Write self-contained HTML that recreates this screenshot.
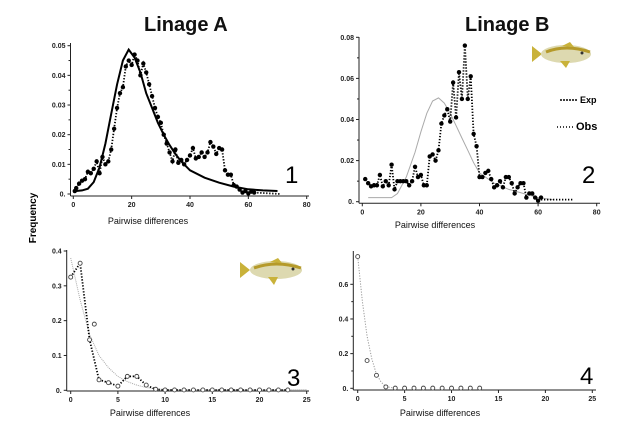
<!DOCTYPE html>
<html><head><meta charset="utf-8"><style>
body{margin:0;background:#fff;}
svg{display:block;font-family:"Liberation Sans",Arial,sans-serif;}
.tk{font-size:7px;font-weight:bold;fill:#222;}
.xl{font-size:9px;fill:#111;}
.ttl{font-size:20px;font-weight:bold;fill:#111;}
.num{font-size:24px;fill:#000;}
</style></head><body>
<svg id="fig" width="639" height="426" viewBox="0 0 639 426">
<text class="ttl" x="144" y="31">Linage A</text>
<text class="ttl" x="465" y="31">Linage B</text>
<text x="0" y="0" transform="translate(36,218) rotate(-90)" text-anchor="middle" style="font-size:10px;font-weight:bold">Frequency</text>
<g>
<line x1="560" y1="100" x2="578" y2="100" stroke="#000" stroke-width="1.5" stroke-dasharray="2 1"/>
<text x="580" y="103" style="font-size:9px;font-weight:bold">Exp</text>
<line x1="557" y1="127" x2="575" y2="127" stroke="#000" stroke-width="1.5" stroke-dasharray="1 2"/>
<text x="576" y="130" style="font-size:11px;font-weight:bold">Obs</text>
</g>
<g transform="translate(532,42)">
<path d="M0,4 L10,12 L0,20 Z" fill="#c9b23a"/>
<ellipse cx="34" cy="12" rx="25" ry="9" fill="#ddd9b0"/>
<path d="M14,10 Q34,2 58,10" stroke="#b59a2a" stroke-width="3" fill="none"/>
<path d="M30,4 L38,0 L42,5 Z M28,19 L34,26 L38,19 Z" fill="#c9b23a"/>
<circle cx="50" cy="11" r="1.5" fill="#333"/>
</g>
<g transform="translate(240,258)">
<path d="M0,4 L10,12 L0,20 Z" fill="#c9b23a"/>
<ellipse cx="36" cy="12" rx="26" ry="9" fill="#ddd9b0"/>
<path d="M14,10 Q36,2 61,10" stroke="#b59a2a" stroke-width="3" fill="none"/>
<path d="M30,4 L38,0 L42,5 Z M28,19 L34,27 L38,19 Z" fill="#c9b23a"/>
<circle cx="53" cy="11" r="1.5" fill="#333"/>
</g>
</svg>
<script>
// Panel 1 data
const p1ObsX=[0.5,1,2,3,4,5,6,7,8,9,10,11,12,13,14,15,16,17,18,19,20,21,22,23,24,25,26,27,28,29,30,31,32,33,34,35,36,37,38,39,40,41,42,43,44,45,46,47,48,49,50,51,52,53,54,55,56,57,58,59,60,61,62];
const p1ObsY=[0.001,0.002,0.0035,0.0045,0.005,0.0075,0.007,0.0085,0.011,0.007,0.0125,0.01,0.011,0.015,0.022,0.029,0.034,0.036,0.043,0.045,0.0435,0.047,0.045,0.04,0.044,0.041,0.037,0.033,0.029,0.026,0.024,0.02,0.017,0.014,0.011,0.015,0.0105,0.0115,0.01,0.0115,0.013,0.0155,0.012,0.0125,0.014,0.0125,0.014,0.0175,0.016,0.0135,0.0155,0.015,0.008,0.0065,0.0065,0.003,0.0025,0.0015,0.0005,0.001,0.0002,0.0008,0.0005];
const p1ExpX=[1,3,5,7,9,11,13,15,17,19,21,23,25,27,29,31,33,35,37,40,45,50,55,60,65,70];
const p1ExpY=[0.001,0.0012,0.0018,0.004,0.009,0.017,0.027,0.037,0.045,0.0487,0.046,0.041,0.034,0.029,0.024,0.02,0.0165,0.0135,0.011,0.008,0.0055,0.0038,0.0025,0.0016,0.0012,0.001];
const p1Yticks=[0,0.01,0.02,0.03,0.04,0.05];
const p1Ylabels=["0.","0.01","0.02","0.03","0.04","0.05"];
const p1Xticks=[0,20,40,60,80];
// Panel 2 data
const p2ObsX=[1,2,3,4,5,6,7,8,9,10,11,12,13,14,15,16,17,18,19,20,21,22,23,24,25,26,27,28,29,30,31,32,33,34,35,36,37,38,39,40,41,42,43,44,45,46,47,48,49,50,51,52,53,54,55,56,57,58,59,60,61];
const p2ObsY=[0.011,0.009,0.0075,0.008,0.008,0.013,0.0075,0.01,0.008,0.018,0.006,0.01,0.01,0.01,0.01,0.008,0.01,0.017,0.012,0.013,0.008,0.008,0.022,0.023,0.02,0.025,0.038,0.042,0.045,0.039,0.058,0.041,0.063,0.05,0.076,0.05,0.061,0.033,0.027,0.012,0.012,0.014,0.015,0.011,0.007,0.008,0.01,0.007,0.012,0.012,0.009,0.004,0.007,0.009,0.009,0.002,0.004,0.004,0.002,0.0005,0.002];
const p2TailX=[61,72];
const p2TailY=[0.001,0.001];
const p2ExpX=[2,10,12,15,18,20,22,24,26,28,30,32,34,36,38,40,45,50,55,60,65];
const p2ExpY=[0.002,0.002,0.004,0.012,0.024,0.034,0.043,0.049,0.0505,0.048,0.043,0.037,0.031,0.025,0.019,0.014,0.009,0.006,0.004,0.002,0.001];
const p2Yticks=[0,0.02,0.04,0.06,0.08];
const p2Ylabels=["0.","0.02","0.04","0.06","0.08"];
const p2Xticks=[0,20,40,60,80];
// Panel 3 data
const p3ObsX=[0,1,2,3,4,5,6,7,8,9,10,11,12,13,14,15,16,17,18,19,20,21,22,23];
const p3ObsY=[0.325,0.365,0.145,0.03,0.022,0.012,0.04,0.04,0.015,0.003,0.001,0.001,0.001,0.001,0.001,0.001,0.001,0.001,0.001,0.001,0.001,0.001,0.001,0.001];
const p3ExtraX=[2.5];
const p3ExtraY=[0.19];
const p3ExpX=[0,1,2,3,4,5,6,7,8,9,10,25];
const p3ExpY=[0.38,0.26,0.16,0.1,0.065,0.04,0.025,0.015,0.008,0.004,0.002,0.002];
const p3Yticks=[0,0.1,0.2,0.3,0.4];
const p3Ylabels=["0.","0.1","0.2","0.3","0.4"];
const p3Xticks=[0,5,10,15,20,25];
// Panel 4 data
const p4ObsX=[0,1,2,3,4,5,6,7,8,9,10,11,12,13];
const p4ObsY=[0.76,0.16,0.075,0.008,0.001,0.001,0.001,0.001,0.001,0.001,0.001,0.001,0.001,0.001];
const p4ExpX=[0,0.5,1,1.5,2,2.5,3,4];
const p4ExpY=[0.76,0.5,0.3,0.17,0.08,0.035,0.01,0];
const p4Yticks=[0,0.2,0.4,0.6];
const p4Ylabels=["0.","0.2","0.4","0.6"];
const p4Xticks=[0,5,10,15,20,25];

const NS="http://www.w3.org/2000/svg";
const svg=document.getElementById('fig');
function mk(tag,attrs,parent){const e=document.createElementNS(NS,tag);for(const k in attrs)e.setAttribute(k,attrs[k]);(parent||svg).appendChild(e);return e;}
function makeAxes(o){
  const xs=v=>o.x0+(v-o.xmin)/(o.xmax-o.xmin)*(o.x1-o.x0);
  const ys=v=>o.y0-(v-o.ymin)/(o.ymax-o.ymin)*(o.y0-o.y1);
  return {xs,ys};
}
function panel(o){
  const g=mk('g',{});
  
  
  const {xs,ys}=makeAxes(o);
  mk('line',{x1:o.ax,y1:o.ytop,x2:o.ax,y2:o.axY,stroke:'#222','stroke-width':1},g);
  mk('line',{x1:o.ax,y1:o.axY,x2:o.xend,y2:o.axY,stroke:'#222','stroke-width':1},g);
  o.yt.forEach((v,i)=>{
    const y=ys(v);
    mk('line',{x1:o.ax-3,y1:y,x2:o.ax,y2:y,stroke:'#222'},g);
    const t=mk('text',{x:o.ax-5,y:y+2.5,'text-anchor':'end',class:'tk'},g);t.textContent=o.yl[i];
    
    
    if(i<o.yt.length-1&&o.minor){const ym=ys((v+o.yt[i+1])/2);mk('line',{x1:o.ax-2,y1:ym,x2:o.ax,y2:ym,stroke:'#222'},g);}
  });
  o.xt.forEach(v=>{
    const x=xs(v);
    mk('line',{x1:x,y1:o.axY,x2:x,y2:o.axY+3,stroke:'#222'},g);
    const t=mk('text',{x:x,y:o.axY+11,'text-anchor':'middle',class:'tk'},g);t.textContent=String(v);
    
    
  });
  const xl=mk('text',{x:o.xlx,y:o.xly,'text-anchor':'middle',class:'xl'},g);xl.textContent='Pairwise differences';
  
  
  const n=mk('text',{x:o.nx,y:o.ny,class:'num'},g);n.textContent=o.num;
  
  
  return {g,xs,ys};
}
function line(p,X,Y,style,name){
  const d=X.map((x,i)=>(i?'L':'M')+p.xs(x).toFixed(1)+','+p.ys(Y[i]).toFixed(1)).join(' ');
  const e=mk('path',Object.assign({d:d,fill:'none'},style),p.g);
  
  
}
function pts(p,X,Y,filled,name){
  X.forEach((x,i)=>{
    const c=mk('circle',{cx:p.xs(x),cy:p.ys(Y[i]),r:filled?2.2:2,fill:filled?'#000':'#fff',stroke:filled?'none':'#444','stroke-width':0.9},p.g);
    
    
  });
}
const obsStyle={stroke:'#000','stroke-width':1.8,'stroke-dasharray':'1.3 1.7'};
// Panel 1
const P1=panel({name:'panel-1',x0:73.3,x1:306.7,xmin:0,xmax:80,y0:194,y1:45.7,ymin:0,ymax:0.05,ax:70.5,ytop:43,axY:196,xend:309,yt:p1Yticks,yl:p1Ylabels,xt:p1Xticks,minor:true,xlx:148,xly:224,nx:285,ny:183,num:'1'});
line(P1,p1ObsX,p1ObsY,obsStyle,'obs-line-1');
pts(P1,p1ObsX,p1ObsY,true,'obs-point-1');
line(P1,[62,71],[0.0005,0],obsStyle,'obs-tail-1');
line(P1,p1ExpX,p1ExpY,{stroke:'#000','stroke-width':2},'exp-line-1');
// Panel 2
const P2=panel({name:'panel-2',x0:362.3,x1:596.7,xmin:0,xmax:80,y0:201.7,y1:37.3,ymin:0,ymax:0.08,ax:359,ytop:37,axY:203.3,xend:600,yt:p2Yticks,yl:p2Ylabels,xt:p2Xticks,minor:true,xlx:435,xly:228,nx:582,ny:183,num:'2'});
line(P2,p2ExpX,p2ExpY,{stroke:'#aaa','stroke-width':1},'exp-line-2');
line(P2,p2ObsX,p2ObsY,obsStyle,'obs-line-2');
pts(P2,p2ObsX,p2ObsY,true,'obs-point-2');
line(P2,p2TailX,p2TailY,obsStyle,'obs-tail-2');
// Panel 3
const P3=panel({name:'panel-3',x0:70.7,x1:306.7,xmin:0,xmax:25,y0:390.3,y1:251,ymin:0,ymax:0.4,ax:66.7,ytop:250,axY:391,xend:309,yt:p3Yticks,yl:p3Ylabels,xt:p3Xticks,minor:false,xlx:150,xly:416,nx:287,ny:386,num:'3'});
line(P3,p3ExpX,p3ExpY,{stroke:'#aaa','stroke-width':1,'stroke-dasharray':'1 1'},'exp-line-3');
line(P3,p3ObsX,p3ObsY,obsStyle,'obs-line-3');
pts(P3,p3ObsX,p3ObsY,false,'obs-point-3');
pts(P3,p3ExtraX,p3ExtraY,false,'obs-point-3-extra');
// Panel 4
const P4=panel({name:'panel-4',x0:357.7,x1:592.3,xmin:0,xmax:25,y0:388.3,y1:284.3,ymin:0,ymax:0.6,ax:353.3,ytop:251,axY:390,xend:596,yt:p4Yticks,yl:p4Ylabels,xt:p4Xticks,minor:true,xlx:440,xly:416,nx:580,ny:384,num:'4'});
line(P4,p4ExpX,p4ExpY,{stroke:'#999','stroke-width':1,'stroke-dasharray':'1.2 1.5'},'exp-line-4');
pts(P4,p4ObsX,p4ObsY,false,'obs-point-4');
</script>
</body></html>
